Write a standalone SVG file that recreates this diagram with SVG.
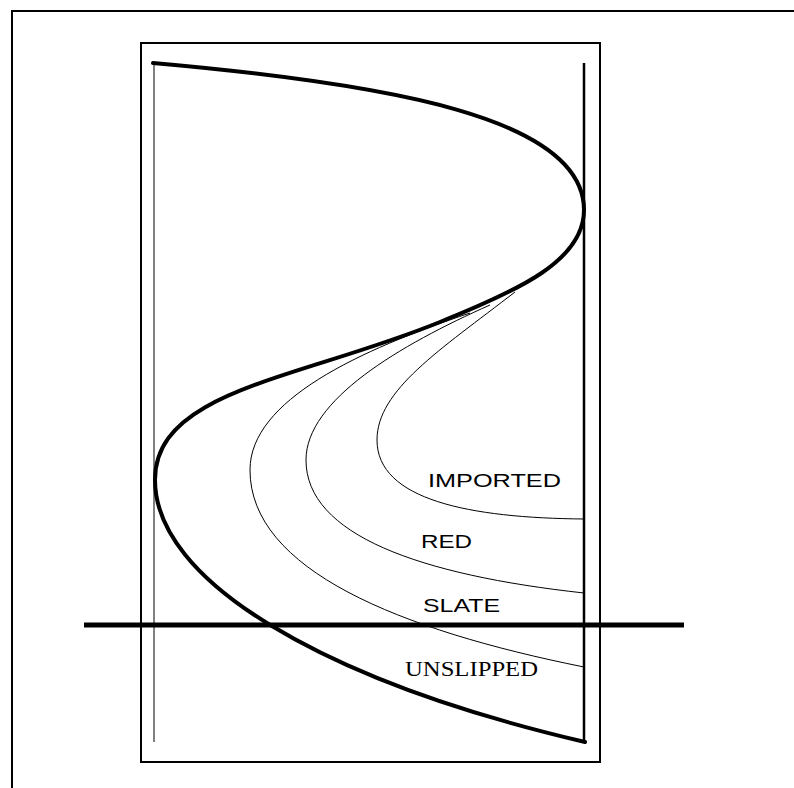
<svg xmlns="http://www.w3.org/2000/svg" width="794" height="788" viewBox="0 0 794 788">
<style>
.frame{fill:none;stroke:#000;stroke-width:2}
.thick{fill:none;stroke:#000;stroke-width:4;stroke-linecap:round;stroke-linejoin:round}
.thin{fill:none;stroke:#000;stroke-width:1}
.sans{font-family:"Liberation Sans",Arial,sans-serif;font-size:18px;fill:#000}
.serif{font-family:"Liberation Serif","Times New Roman",serif;font-size:20px;fill:#000}
</style>
<rect width="794" height="788" fill="#fff"/>
<g id="outer-frame"><polyline class="frame" points="12,788 12,11 794,11"/></g>
<g id="inner-frame"><rect class="frame" x="141" y="43" width="459" height="719"/></g>
<g id="left-axis"><line class="thin" x1="154" y1="63" x2="154" y2="742"/></g>
<g id="right-axis"><line x1="584" y1="63" x2="584" y2="742" stroke="#000" stroke-width="2.5"/></g>
<g id="connectors">
<path id="s-curve" class="thick" d="M153,63 C390,84 584,118 584,210 C584,260 520,290 440,322 C300,379 155,390 155,480 C155,580 320,680 585,742"/>
<path id="imported-curve" class="thin" d="M515,292 C440,350 377,390 377,440 C377,500 470,518 584,519"/>
<path id="red-curve" class="thin" d="M490,305 C400,345 306,400 306,460 C306,535 420,575 584,593"/>
<path id="slate-curve" class="thin" d="M470,313 C360,350 250,400 250,470 C250,570 400,630 584,667"/>
</g>
<g id="horizon"><line x1="84" y1="625" x2="684" y2="625" stroke="#000" stroke-width="5"/></g>
<g id="labels">
<text class="sans" x="428" y="487" textLength="133" lengthAdjust="spacingAndGlyphs">IMPORTED</text>
<text class="sans" x="421" y="548" textLength="51" lengthAdjust="spacingAndGlyphs">RED</text>
<text class="sans" x="423" y="612" textLength="77" lengthAdjust="spacingAndGlyphs">SLATE</text>
<text class="serif" x="405" y="676" textLength="133" lengthAdjust="spacingAndGlyphs">UNSLIPPED</text>
</g>
</svg>
